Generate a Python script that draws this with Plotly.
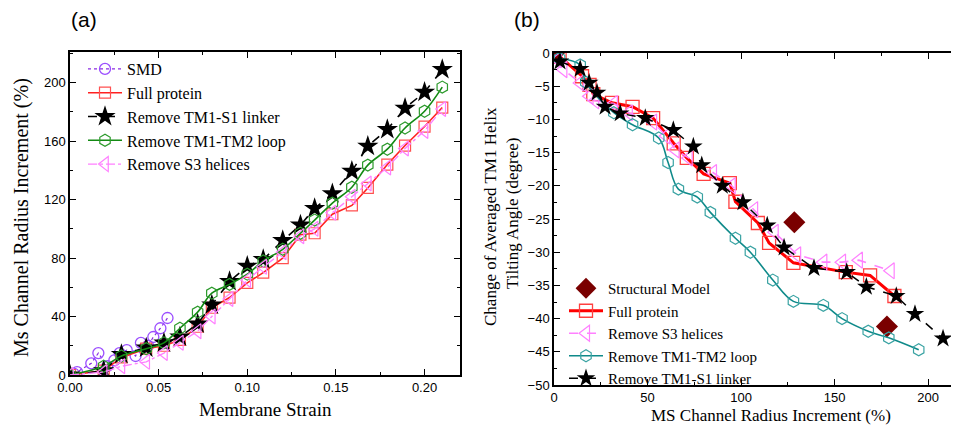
import plotly.graph_objects as go

# ---------------- Panel (a) data ----------------
smd_strain = [0.002, 0.004, 0.012, 0.016, 0.021, 0.025, 0.028, 0.032, 0.037, 0.040, 0.044, 0.047, 0.051, 0.055]
smd_radius = [1, 2, 8, 15, 6, 10, 15, 17, 13, 22, 20, 26, 32, 39]

strain = [0.0, 0.019, 0.029, 0.043, 0.053, 0.062, 0.072, 0.080, 0.090, 0.100, 0.109,
          0.120, 0.130, 0.138, 0.148, 0.159, 0.168, 0.179, 0.189, 0.200, 0.210]
full_radius = [0, 3, 12, 18, 20, 24, 33, 46, 53, 63, 70, 80, 96, 97, 110, 116, 128, 144, 157, 170, 183]
tm1s1_radius = [0, 3, 14, 18.5, 22, 26, 35, 48, 64, 74.5, 79, 92, 102.6, 114, 124, 139.5, 156.6, 168, 182.6, 193.5, 209]
tm1tm2_radius = [0, 6, 13, 18, 22, 32, 43, 56, 62, 69, 78, 86, 97, 106, 117.6, 128.5, 143.6, 154.5, 169, 180.5, 197]
s3_radius = [0, 2, 6, 9, 15, 22, 30, 40, 52, 65, 74, 84, 95, 100, 111, 122, 131, 142, 155, 167, 182]

# ---------------- Panel (b) data ----------------
struct_x = [0, 128.5, 178]
struct_y = [0, -25.5, -41.2]

fullb_x = [3, 15, 19, 21, 31, 42, 53, 64, 71, 80, 94, 97, 109, 115, 128, 156, 169, 182]
fullb_y = [-0.5, -3.5, -4.8, -6.2, -7.5, -8.1, -9.8, -13.6, -15.8, -18.2, -19.6, -22.4, -25.6, -28.6, -31.6, -33, -33.5, -36.6]

s3b_x = [2, 5, 14, 19, 22, 32, 40, 53, 60, 65, 72, 85, 95, 107, 118, 130, 144, 154, 163, 180]
s3b_y = [-1, -2.5, -4.5, -6.5, -7.2, -7.6, -9, -10.4, -12.5, -14.6, -15.8, -18, -20, -23.6, -27, -30.4, -31.5, -31.5, -31.2, -32.8]

tm1tm2b_x = [3, 14, 17, 32, 42, 56, 61, 66.5, 76.6, 83.6, 97, 105, 117, 128, 144, 154, 168, 179, 195]
tm1tm2b_y = [-0.8, -1.8, -4.4, -9, -10.8, -12.8, -16.5, -20.5, -21.7, -24, -27.9, -30, -34.2, -37.4, -38, -40, -41.9, -42.9, -44.7]

tm1s1b_x = [3.2, 14, 18.8, 23, 27.3, 35.4, 48.8, 63.8, 74.5, 79, 90, 101, 114, 123, 139, 156.5, 167, 183, 193, 208]
tm1s1b_y = [-1.3, -2.4, -4.5, -6, -8.1, -9.1, -9.8, -11.6, -14.1, -16.9, -20, -22.5, -26, -29.3, -32.4, -33, -35.2, -36.6, -39.3, -43]

a_xticks = [0.0, 0.05, 0.10, 0.15, 0.20]
a_yticks = [0, 40, 80, 120, 160, 200]
b_xticks = [0, 50, 100, 150, 200]
b_yticks = [0, -5, -10, -15, -20, -25, -30, -35, -40, -45, -50]

SERIF = "Liberation Serif, Times New Roman, serif"
SANS = "Liberation Sans, Arial, sans-serif"

fig = go.Figure()

# Panel (a)
fig.add_trace(go.Scatter(x=smd_strain, y=smd_radius, name="SMD", mode="markers+lines",
                         line=dict(color="#8a2be2", width=1.2, dash="dot"),
                         marker=dict(symbol="circle-open", size=11, color="#9b4dff", line=dict(width=1.3)),
                         xaxis="x", yaxis="y", legend="legend"))
fig.add_trace(go.Scatter(x=strain, y=full_radius, name="Full protein", mode="markers+lines",
                         line=dict(color="#ff2020", width=1.6),
                         marker=dict(symbol="square-open", size=11, color="#ff5050", line=dict(width=1.2)),
                         xaxis="x", yaxis="y", legend="legend"))
fig.add_trace(go.Scatter(x=strain, y=tm1s1_radius, name="Remove TM1-S1 linker", mode="markers+lines",
                         line=dict(color="black", width=1.6, dash="dash"),
                         marker=dict(symbol="star", size=16, color="black"),
                         xaxis="x", yaxis="y", legend="legend"))
fig.add_trace(go.Scatter(x=strain, y=tm1tm2_radius, name="Remove TM1-TM2 loop", mode="markers+lines",
                         line=dict(color="#138a13", width=1.6, shape="spline"),
                         marker=dict(symbol="hexagon-open", size=12, color="#2c9a2c", line=dict(width=1.2)),
                         xaxis="x", yaxis="y", legend="legend"))
fig.add_trace(go.Scatter(x=strain, y=s3_radius, name="Remove S3 helices", mode="markers+lines",
                         line=dict(color="#ff80ff", width=1.4, dash="dashdot"),
                         marker=dict(symbol="triangle-left-open", size=13, color="#ff80ff", line=dict(width=1.2)),
                         xaxis="x", yaxis="y", legend="legend"))

# Panel (b)
fig.add_trace(go.Scatter(x=struct_x, y=struct_y, name="Structural Model", mode="markers",
                         marker=dict(symbol="diamond", size=17, color="#7a0000"),
                         xaxis="x2", yaxis="y2", legend="legend2"))
fig.add_trace(go.Scatter(x=fullb_x, y=fullb_y, name="Full protein", mode="markers+lines",
                         line=dict(color="#ff0000", width=3),
                         marker=dict(symbol="square-open", size=13, color="#ff4040", line=dict(width=1.3)),
                         xaxis="x2", yaxis="y2", legend="legend2"))
fig.add_trace(go.Scatter(x=s3b_x, y=s3b_y, name="Remove S3 helices", mode="markers+lines",
                         line=dict(color="#ff80ff", width=1.6, dash="dash"),
                         marker=dict(symbol="triangle-left-open", size=14, color="#ff80ff", line=dict(width=1.2)),
                         xaxis="x2", yaxis="y2", legend="legend2"))
fig.add_trace(go.Scatter(x=tm1tm2b_x, y=tm1tm2b_y, name="Remove TM1-TM2 loop", mode="markers+lines",
                         line=dict(color="#0f8a8a", width=1.6, shape="spline"),
                         marker=dict(symbol="hexagon-open", size=12, color="#3aa3a3", line=dict(width=1.2)),
                         xaxis="x2", yaxis="y2", legend="legend2"))
fig.add_trace(go.Scatter(x=tm1s1b_x, y=tm1s1b_y, name="Remove TM1-S1 linker", mode="markers+lines",
                         line=dict(color="black", width=1.5, dash="dash"),
                         marker=dict(symbol="star", size=14, color="black"),
                         xaxis="x2", yaxis="y2", legend="legend2"))

# The page body has an 8px margin, so the figure is 8px smaller and
# reference pixel positions are shifted by 8px.
OFF = 8
W, H = 959 - OFF, 430 - OFF
def px(v): return (v - OFF) / W
def py(v): return 1 - (v - OFF) / H

axis_common = dict(showline=True, linecolor="black", linewidth=1.5, mirror="ticks",
                   ticks="inside", ticklen=6, tickwidth=1.3, tickcolor="black",
                   showgrid=False, zeroline=False, automargin=False,
                   tickfont=dict(family=SANS, size=13, color="black"))

def ann(text, x, y, size, family, angle=0):
    return dict(text=text, x=px(x), y=py(y), xref="paper", yref="paper", showarrow=False,
                xanchor="center", yanchor="middle", textangle=angle,
                font=dict(family=family, size=size, color="black"))

fig.update_layout(
    width=W, height=H,
    autosize=False,
    margin=dict(l=0, r=0, t=0, b=0, pad=0),
    paper_bgcolor="white", plot_bgcolor="white",
    showlegend=True,
    xaxis=dict(domain=[px(70), px(460)], range=[0, 0.22], tickvals=a_xticks, tickformat=".2f",
               minor=dict(ticks="inside", ticklen=3, dtick=0.025, tickcolor="black"), anchor="y", **axis_common),
    yaxis=dict(domain=[py(375), py(52)], range=[0, 221], tickvals=a_yticks,
               minor=dict(ticks="inside", ticklen=3, dtick=20, tickcolor="black"), anchor="x", **axis_common),
    xaxis2=dict(domain=[px(554), min(1.0, px(958))], range=[0, 216], tickvals=b_xticks,
                minor=dict(ticks="inside", ticklen=3, dtick=25, tickcolor="black"), anchor="y2", **axis_common),
    yaxis2=dict(domain=[py(385), py(53)], range=[-50, 0], tickvals=b_yticks,
                minor=dict(ticks="inside", ticklen=3, dtick=2.5, tickcolor="black"), anchor="x2", **axis_common),
    legend=dict(x=px(83), y=py(52), xanchor="left", yanchor="top", bgcolor="rgba(0,0,0,0)",
                font=dict(family=SERIF, size=16, color="black"), tracegroupgap=0, itemwidth=34),
    legend2=dict(x=px(564), y=py(272), xanchor="left", yanchor="top", bgcolor="rgba(0,0,0,0)",
                 font=dict(family=SERIF, size=15, color="black"), tracegroupgap=0, itemwidth=34),
    annotations=[
        ann("(a)", 84, 20, 21, SANS),
        ann("(b)", 527, 20, 21, SANS),
        ann("Ms Channel Radius Increment (%)", 22, 218, 20, SERIF, -90),
        ann("Membrane Strain", 265, 409, 19, SERIF),
        ann("Change of Averaged TM1 Helix", 490, 216, 17, SERIF, -90),
        ann("Tilting Angle (degree)", 512, 214, 17, SERIF, -90),
        ann("MS Channel Radius Increment (%)", 771, 415, 17, SERIF),
    ],
)

fig.write_html("out.html")
